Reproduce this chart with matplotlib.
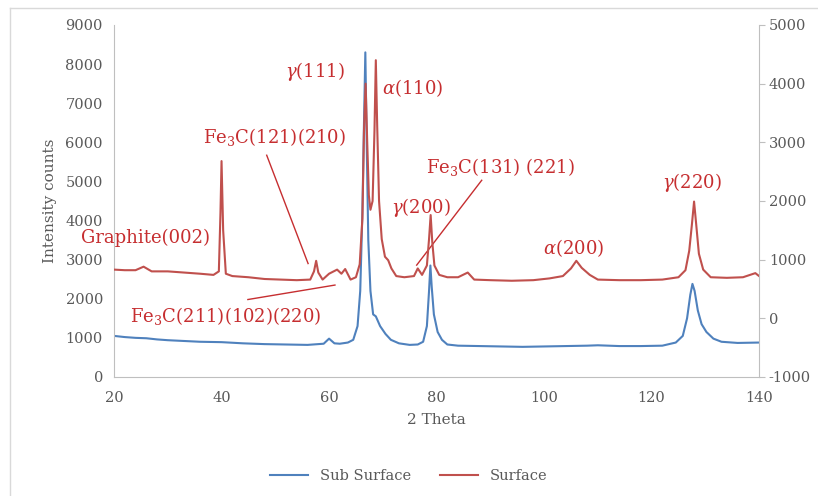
import numpy as np
import matplotlib
matplotlib.use("Agg")
import matplotlib.pyplot as plt
from matplotlib.lines import Line2D

plt.rcParams['font.family'] = ['DejaVu Serif']
plt.rcParams['mathtext.fontset'] = 'dejavuserif'
plt.rcParams['axes.unicode_minus'] = False

#############################################################################
# data
# Sub Surface -> left axis
x_sub = [20, 22, 24, 26, 28, 30, 33, 36, 40, 44, 48, 52, 56, 59, 60, 61, 62, 63.5, 64.5,
         65.3, 65.8, 66.2, 66.5, 66.75, 67.0, 67.3, 67.7, 68.2, 68.7, 69.5, 70.5, 71.5, 73,
         75, 76.5, 77.5, 78.2, 78.6, 78.85, 79.1, 79.5, 80.2, 81, 82, 84, 88, 92, 96, 100,
         104, 108, 110, 114, 118, 122, 124.5, 125.8, 126.6, 127.2, 127.6, 128.0, 128.6,
         129.3, 130.2, 131.5, 133, 136, 140]
y_sub = [1050, 1020, 1000, 990, 960, 940, 920, 900, 890, 860, 840, 830, 820, 850, 980, 860,
         850, 880, 950, 1300, 2200, 4200, 6500, 8300, 6000, 3500, 2200, 1600, 1550, 1300,
         1100, 950, 860, 820, 830, 900, 1300, 2200, 2850, 2300, 1600, 1150, 950, 830, 800,
         790, 780, 770, 780, 790, 800, 810, 790, 790, 800, 880, 1050, 1500, 2100, 2380,
         2200, 1700, 1350, 1150, 980, 900, 870, 880]

# Surface -> right axis
x_surf = [20, 22, 24, 25.5, 27, 30, 33, 36, 38.5, 39.5, 39.8, 40.0, 40.3, 40.8, 42, 45, 48,
          51, 54, 56.5, 57.2, 57.6, 58.0, 58.8, 60, 61.5, 62.3, 63, 64, 65, 65.7, 66.2, 66.5,
          66.8, 67.1, 67.4, 67.7, 68.1, 68.45, 68.7, 68.95, 69.3, 69.8, 70.4, 71.0, 71.6,
          72.5, 74, 75.8, 76.5, 77.3, 78.2, 78.6, 78.9, 79.2, 79.6, 80.5, 82, 84, 85.8, 87,
          90, 94, 98, 101, 103.5, 105, 106, 107, 108.5, 110, 114, 118, 122, 125, 126.3,
          127.0, 127.5, 127.9, 128.3, 128.8, 129.6, 131, 134, 137, 139.3, 140]
y_surf = [830, 820, 820, 880, 800, 800, 780, 760, 740, 800, 1800, 2680, 1500, 760, 720, 700,
          670, 660, 650, 660, 800, 980, 780, 660, 760, 830, 760, 840, 660, 700, 920, 1700,
          3200, 4000, 3000, 2100, 1850, 2000, 3200, 4400, 3300, 2000, 1350, 1050, 990, 850,
          720, 700, 720, 850, 740, 900, 1350, 1760, 1300, 900, 740, 700, 700, 780, 660, 650,
          640, 650, 680, 720, 850, 980, 860, 740, 660, 650, 650, 660, 700, 820, 1150, 1600,
          1990, 1600, 1100, 830, 700, 690, 700, 770, 720]

# peak labels: text, text position, optional leader line (left-axis units)
labels = [r"$\gamma$(111)", r"$\alpha$(110)", r"Fe$_3$C(121)(210)", "Graphite(002)",
          r"$\gamma$(200)", r"Fe$_3$C(131) (221)", r"$\gamma$(220)", r"$\alpha$(200)",
          r"Fe$_3$C(211)(102)(220)"]
label_xy = [(57.4, 7800), (75.6, 7390), (49.8, 6130), (25.8, 3550), (77.1, 4340),
            (91.8, 5370), (127.5, 4960), (105.4, 3290), (40.8, 1550)]
leaders = [((48.4, 5670), (56.1, 2900)),
           ((88.4, 5030), (76.3, 2860)),
           ((44.9, 1980), (61.1, 2350))]

#############################################################################
blue = '#4F81BD'
red = '#C0504D'
txt_red = '#C62E30'
gray = '#595959'
spine = '#BFBFBF'

fig = plt.figure(figsize=(8.18, 4.96), dpi=100)
ax = fig.add_axes([0.1394, 0.240, 0.7886, 0.7096])
ax2 = ax.twinx()

l1, = ax.plot(x_sub, y_sub, color=blue, lw=1.5)
l2, = ax2.plot(x_surf, y_surf, color=red, lw=1.5)

ax.set_xlim(20, 140)
ax.set_ylim(0, 9000)
ax2.set_ylim(-1000, 5000)
ax.set_xticks(np.arange(20, 141, 20))
ax.set_yticks(np.arange(0, 9001, 1000))
ax2.set_yticks(np.arange(-1000, 5001, 1000))

for a in (ax, ax2):
    for s in a.spines.values():
        s.set_visible(False)
ax.spines['left'].set_visible(True)
ax.spines['bottom'].set_visible(True)
ax.spines['left'].set_color(spine)
ax.spines['bottom'].set_color(spine)
ax2.spines['right'].set_visible(True)
ax2.spines['right'].set_color(spine)

ax.tick_params(axis='both', length=0, colors=gray, labelsize=10.5, pad=8)
ax.tick_params(axis='x', pad=10)
ax2.tick_params(axis='y', length=4, color=spine, labelcolor=gray, labelsize=10.5, pad=3)

ax.set_xlabel("2 Theta", color=gray, fontsize=11, labelpad=6)
ax.set_ylabel("Intensity counts", color=gray, fontsize=11, labelpad=6)

for t, (tx, ty) in zip(labels, label_xy):
    ax.text(tx, ty, t, color=txt_red, fontsize=13, ha='center', va='center')
for (p0, p1) in leaders:
    ax.plot([p0[0], p1[0]], [p0[1], p1[1]], color=txt_red, lw=1.0)

fig.legend([l1, l2], ["Sub Surface", "Surface"], loc='center', bbox_to_anchor=(0.5, 0.04),
           ncol=2, frameon=False, fontsize=10.5, labelcolor=gray, handlelength=2.6,
           columnspacing=2.0)

# outer chart border
fig.add_artist(Line2D([10/818, 1], [1-8/496, 1-8/496], color='#D9D9D9', lw=1))
fig.add_artist(Line2D([10/818, 10/818], [0, 1-8/496], color='#D9D9D9', lw=1))

fig.savefig("out.png", dpi=100)
